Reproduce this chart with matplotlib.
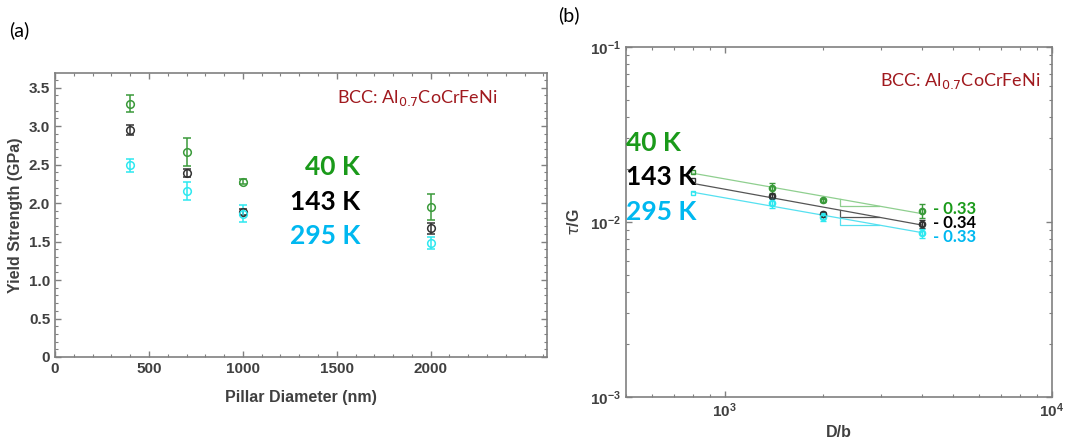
import numpy as np
import matplotlib.pyplot as plt
from matplotlib.ticker import MultipleLocator, LogLocator, NullFormatter

# pillar compression data, three test temperatures
diameter_nm = [400, 700, 1000, 2000]
temps = ['40 K', '143 K', '295 K']

ys_40 = [3.29, 2.66, 2.28, 1.95]
ys_40_err = [0.11, 0.18, 0.03, 0.17]
ys_143 = [2.95, 2.39, 1.88, 1.67]
ys_143_err = [0.06, 0.05, 0.04, 0.07]
ys_295 = [2.49, 2.16, 1.86, 1.48]
ys_295_err = [0.08, 0.12, 0.11, 0.08]

# normalised: D/b vs tau/G
d_over_b = [800, 1400, 2000, 4000]
tg_40 = [0.0194, 0.0157, 0.0133, 0.0116]
tg_40_err = [0.0004, 0.0010, 0.0003, 0.0010]
tg_143 = [0.0174, 0.0141, 0.0111, 0.0098]
tg_143_err = [0.0003, 0.0004, 0.0003, 0.0005]
tg_295 = [0.0147, 0.0128, 0.0107, 0.0086]
tg_295_err = [0.0004, 0.0007, 0.0006, 0.0005]
slopes = [0.33, 0.34, 0.33]

marker_cols = ['#3a9a3a', '#333333', '#2ee8f0']
text_cols = ['#1a9a1a', '#000000', '#00b8f0']
line_cols = ['#8fcf8f', '#555555', '#55e0f0']
title_col = '#a0191e'
spine_col = '#808080'
tick_col = '#404040'

plt.rcParams['font.family'] = ['Liberation Sans', 'DejaVu Sans']

fig = plt.figure(figsize=(10.9, 4.45), dpi=100)
ax1 = fig.add_axes([0.0505, 0.1978, 0.4514, 0.638])
ax2 = fig.add_axes([0.5743, 0.1079, 0.3908, 0.7865])


def style_axes(ax):
    for sp in ax.spines.values():
        sp.set_color(spine_col)
        sp.set_linewidth(1.2)
    ax.tick_params(which='both', direction='in', top=True, right=True,
                   color=spine_col, labelcolor=tick_col, labelsize=11)
    ax.tick_params(which='major', length=4, width=1)
    ax.tick_params(which='minor', length=2, width=0.8)
    for lbl in ax.get_xticklabels() + ax.get_yticklabels():
        lbl.set_fontweight('bold')


# ---- (a) yield strength vs diameter ----
series_a = [(ys_40, ys_40_err), (ys_143, ys_143_err), (ys_295, ys_295_err)]
for (vals, errs), c in zip(series_a, marker_cols):
    ax1.errorbar(diameter_nm, vals, yerr=errs, fmt='o', ms=5.5, mfc='none',
                 mec=c, mew=1.1, ecolor=c, elinewidth=1.1, capsize=3, capthick=1.1)

ax1.set_xlim(0, 2620)
ax1.set_ylim(0, 3.69)
ax1.set_xticks([0, 500, 1000, 1500, 2000])
ax1.set_yticks([0, 0.5, 1.0, 1.5, 2.0, 2.5, 3.0, 3.5])
ax1.set_yticklabels(['0', '0.5', '1.0', '1.5', '2.0', '2.5', '3.0', '3.5'])
ax1.xaxis.set_minor_locator(MultipleLocator(100))
ax1.yaxis.set_minor_locator(MultipleLocator(0.1))
style_axes(ax1)
ax1.set_xlabel('Pillar Diameter (nm)', fontsize=11.5, fontweight='bold',
               color=tick_col, labelpad=10)
ax1.set_ylabel('Yield Strength (GPa)', fontsize=11.5, fontweight='bold',
               color=tick_col, labelpad=4)

ax1.text(0.573, 0.912, r'BCC: Al$_{0.7}$CoCrFeNi', transform=ax1.transAxes,
         family='Lato', fontsize=13, color=title_col, va='center', ha='left')
for t, c, yy in zip(temps, text_cols, [0.669, 0.546, 0.426]):
    ax1.text(0.62, yy, t, transform=ax1.transAxes, family='Lato',
             fontweight='bold', fontsize=19, color=c, ha='right', va='center')

fig.text(0.008, 0.932, '(a)', family='Lato', fontsize=14, va='center')

# ---- (b) normalised log-log ----
series_b = [(tg_40, tg_40_err), (tg_143, tg_143_err), (tg_295, tg_295_err)]
xb = np.array(d_over_b, dtype=float)
x1, x2 = 2250, 2960
for (vals, errs), s, mc, lc in zip(series_b, slopes, marker_cols, line_cols):
    v = np.array(vals)
    # power-law fit with the quoted exponent
    logc = np.mean(np.log10(v) + s * np.log10(xb))
    fit = lambda x: 10 ** (logc - s * np.log10(x))
    xx = np.array([xb[0], xb[-1]])
    ax2.plot(xx, fit(xx), color=lc, lw=0.9)
    ax2.plot([x1, x1, x2], [fit(x1), fit(x2), fit(x2)], color=lc, lw=0.9)
    ax2.errorbar(d_over_b[1:], vals[1:], yerr=errs[1:], fmt='o', ms=4.5,
                 mfc='none', mec=mc, mew=1, ecolor=mc, elinewidth=1,
                 capsize=2.5, capthick=1)
    ax2.plot(d_over_b, vals, 's', ms=3.5, mfc='none', mec=mc, mew=1)

ax2.set_xscale('log')
ax2.set_yscale('log')
ax2.set_xlim(500, 1e4)
ax2.set_ylim(1e-3, 1e-1)
ax2.xaxis.set_minor_locator(LogLocator(base=10, subs=np.arange(2, 10)))
ax2.yaxis.set_minor_locator(LogLocator(base=10, subs=np.arange(2, 10)))
ax2.xaxis.set_minor_formatter(NullFormatter())
ax2.yaxis.set_minor_formatter(NullFormatter())
style_axes(ax2)
ax2.set_xlabel('D/b', fontsize=11.5, fontweight='bold', color=tick_col, labelpad=3)
ax2.set_ylabel(r'$\tau$/G', fontsize=11.5, fontweight='bold', color=tick_col, labelpad=6)

ax2.text(0.596, 0.903, r'BCC: Al$_{0.7}$CoCrFeNi', transform=ax2.transAxes,
         family='Lato', fontsize=13, color=title_col, va='center', ha='left')
for t, c, yy in zip(temps, text_cols, [0.726, 0.629, 0.529]):
    ax2.text(0.0, yy, t, transform=ax2.transAxes, family='Lato',
             fontweight='bold', fontsize=19, color=c, ha='left', va='center')
for s, c, yy in zip(slopes, text_cols, [0.537, 0.497, 0.457]):
    ax2.text(0.72, yy, f'- {s:.2f}', transform=ax2.transAxes, family='Lato',
             fontweight='bold', fontsize=12, color=c, ha='left', va='center')

fig.text(0.512, 0.966, '(b)', family='Lato', fontsize=14, va='center')

fig.savefig('out.png', dpi=100)
